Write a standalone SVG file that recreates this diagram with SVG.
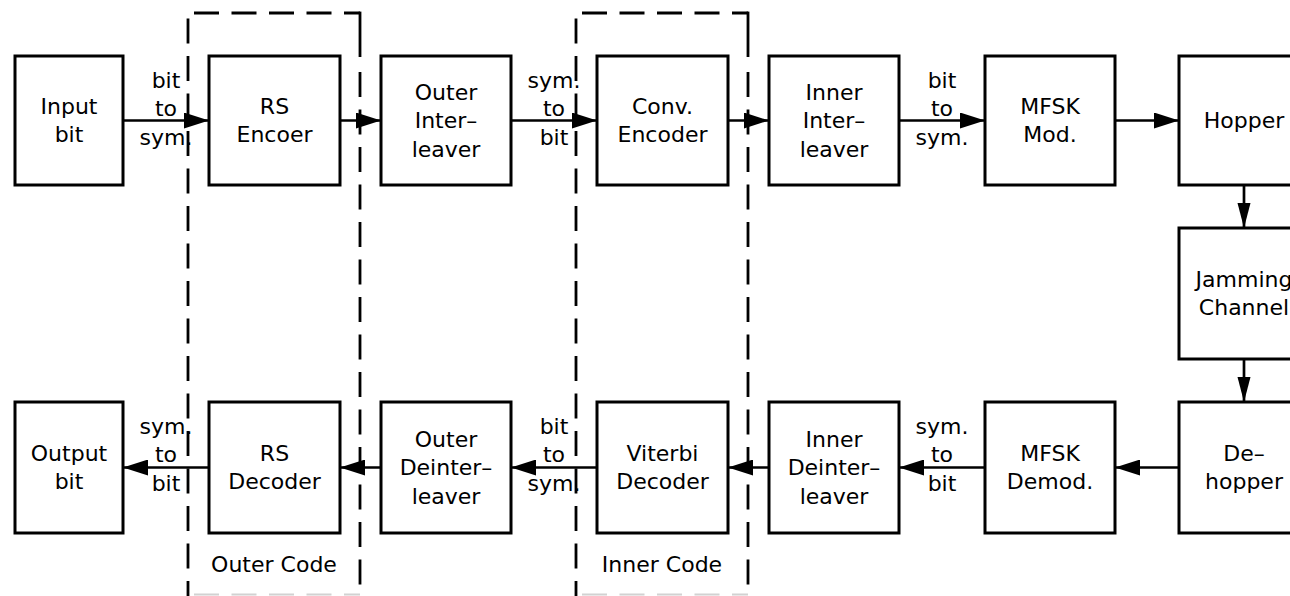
<svg xmlns="http://www.w3.org/2000/svg" width="1290" height="596" viewBox="0 0 1290 596">
  <style>
    .box { fill: #ffffff; stroke: #000000; stroke-width: 3; }
    .wire { fill: none; stroke: #000000; stroke-width: 2.7; }
    .dash { fill: none; stroke: #000000; stroke-width: 2.8; stroke-dasharray: 25 12.5; }
    .solid { fill: none; stroke: #000000; stroke-width: 2.8; }
    .faint { fill: none; stroke: #d2d2d2; stroke-width: 2; stroke-dasharray: 25 12.5; }
    text { font-family: "DejaVu Sans", "Liberation Sans", sans-serif; font-size: 22px; fill: #000000; text-anchor: middle; }
  </style>
  <defs>
    <marker id="arrowH" markerUnits="userSpaceOnUse" markerWidth="25" markerHeight="16" viewBox="0 0 25 16" refX="25" refY="8" orient="auto">
      <path d="M0,0 L25,8 L0,16 Z" fill="#000000"/>
    </marker>
    <marker id="arrowV" markerUnits="userSpaceOnUse" markerWidth="25" markerHeight="14" viewBox="0 0 25 14" refX="25" refY="7" orient="auto">
      <path d="M0,0.5 L25,7 L0,13.5 Z" fill="#000000"/>
    </marker>
  </defs>

  <rect x="0" y="0" width="1290" height="596" fill="#ffffff"/>

  <!-- code groupings (dashed frames) -->
  <g id="outer-code">
    <path class="dash" d="M194,13 H360"/>
    <path class="solid" d="M360,11.6 V57"/>
    <path class="dash" d="M360,72 V596"/>
    <path class="dash" d="M188,18.5 V596"/>
    <path class="faint" d="M194,594.5 H360"/>
    <text x="274" y="572">Outer Code</text>
  </g>
  <g id="inner-code">
    <path class="dash" d="M582,13 H748"/>
    <path class="solid" d="M748,11.6 V57"/>
    <path class="dash" d="M748,72 V596"/>
    <path class="dash" d="M576,18.5 V596"/>
    <path class="faint" d="M582,594.5 H748"/>
    <text x="662" y="572">Inner Code</text>
  </g>

  <!-- connectors -->
  <g id="connectors">
    <line class="wire" x1="123" y1="120.5" x2="209" y2="120.5" marker-end="url(#arrowH)"/>
    <line class="wire" x1="340" y1="120.5" x2="381" y2="120.5" marker-end="url(#arrowH)"/>
    <line class="wire" x1="511" y1="120.5" x2="597" y2="120.5" marker-end="url(#arrowH)"/>
    <line class="wire" x1="728" y1="120.5" x2="769" y2="120.5" marker-end="url(#arrowH)"/>
    <line class="wire" x1="899" y1="120.5" x2="985" y2="120.5" marker-end="url(#arrowH)"/>
    <line class="wire" x1="1115" y1="120.5" x2="1179" y2="120.5" marker-end="url(#arrowH)"/>
    <line class="wire" x1="1244" y1="185" x2="1244" y2="228" marker-end="url(#arrowV)"/>
    <line class="wire" x1="1244" y1="359" x2="1244" y2="402" marker-end="url(#arrowV)"/>
    <line class="wire" x1="1179" y1="467.5" x2="1115" y2="467.5" marker-end="url(#arrowH)"/>
    <line class="wire" x1="985" y1="467.5" x2="899" y2="467.5" marker-end="url(#arrowH)"/>
    <line class="wire" x1="769" y1="467.5" x2="728" y2="467.5" marker-end="url(#arrowH)"/>
    <line class="wire" x1="597" y1="467.5" x2="511" y2="467.5" marker-end="url(#arrowH)"/>
    <line class="wire" x1="381" y1="467.5" x2="340" y2="467.5" marker-end="url(#arrowH)"/>
    <line class="wire" x1="209" y1="467.5" x2="123" y2="467.5" marker-end="url(#arrowH)"/>

    <text x="166" y="87.5">bit</text>
    <text x="166" y="116">to</text>
    <text x="166" y="144.5">sym.</text>

    <text x="554" y="87.5">sym.</text>
    <text x="554" y="116">to</text>
    <text x="554" y="144.5">bit</text>

    <text x="942" y="87.5">bit</text>
    <text x="942" y="116">to</text>
    <text x="942" y="144.5">sym.</text>

    <text x="166" y="433.5">sym.</text>
    <text x="166" y="462">to</text>
    <text x="166" y="490.5">bit</text>

    <text x="554" y="433.5">bit</text>
    <text x="554" y="462">to</text>
    <text x="554" y="490.5">sym.</text>

    <text x="942" y="433.5">sym.</text>
    <text x="942" y="462">to</text>
    <text x="942" y="490.5">bit</text>
  </g>

  <!-- transmit chain -->
  <g id="input-bit">
    <rect class="box" x="15" y="56" width="108" height="129"/>
    <text x="69" y="113.75">Input</text>
    <text x="69" y="142.25">bit</text>
  </g>
  <g id="rs-encoder">
    <rect class="box" x="209" y="56" width="131" height="129"/>
    <text x="274.5" y="113.75">RS</text>
    <text x="274.5" y="142.25">Encoer</text>
  </g>
  <g id="outer-interleaver">
    <rect class="box" x="381" y="56" width="130" height="129"/>
    <text x="446" y="99.5">Outer</text>
    <text x="446" y="128">Inter–</text>
    <text x="446" y="156.5">leaver</text>
  </g>
  <g id="conv-encoder">
    <rect class="box" x="597" y="56" width="131" height="129"/>
    <text x="662.5" y="113.75">Conv.</text>
    <text x="662.5" y="142.25">Encoder</text>
  </g>
  <g id="inner-interleaver">
    <rect class="box" x="769" y="56" width="130" height="129"/>
    <text x="834" y="99.5">Inner</text>
    <text x="834" y="128">Inter–</text>
    <text x="834" y="156.5">leaver</text>
  </g>
  <g id="mfsk-mod">
    <rect class="box" x="985" y="56" width="130" height="129"/>
    <text x="1050" y="113.75">MFSK</text>
    <text x="1050" y="142.25">Mod.</text>
  </g>
  <g id="hopper">
    <rect class="box" x="1179" y="56" width="130" height="129"/>
    <text x="1244" y="128.3">Hopper</text>
  </g>

  <!-- channel -->
  <g id="jamming-channel">
    <rect class="box" x="1179" y="228" width="130" height="131"/>
    <text x="1244" y="286.75">Jamming</text>
    <text x="1244" y="315.25">Channel</text>
  </g>

  <!-- receive chain -->
  <g id="de-hopper">
    <rect class="box" x="1179" y="402" width="130" height="131"/>
    <text x="1244" y="460.75">De–</text>
    <text x="1244" y="489.25">hopper</text>
  </g>
  <g id="mfsk-demod">
    <rect class="box" x="985" y="402" width="130" height="131"/>
    <text x="1050" y="460.75">MFSK</text>
    <text x="1050" y="489.25">Demod.</text>
  </g>
  <g id="inner-deinterleaver">
    <rect class="box" x="769" y="402" width="130" height="131"/>
    <text x="834" y="446.5">Inner</text>
    <text x="834" y="475">Deinter–</text>
    <text x="834" y="503.5">leaver</text>
  </g>
  <g id="viterbi-decoder">
    <rect class="box" x="597" y="402" width="131" height="131"/>
    <text x="662.5" y="460.75">Viterbi</text>
    <text x="662.5" y="489.25">Decoder</text>
  </g>
  <g id="outer-deinterleaver">
    <rect class="box" x="381" y="402" width="130" height="131"/>
    <text x="446" y="446.5">Outer</text>
    <text x="446" y="475">Deinter–</text>
    <text x="446" y="503.5">leaver</text>
  </g>
  <g id="rs-decoder">
    <rect class="box" x="209" y="402" width="131" height="131"/>
    <text x="274.5" y="460.75">RS</text>
    <text x="274.5" y="489.25">Decoder</text>
  </g>
  <g id="output-bit">
    <rect class="box" x="15" y="402" width="108" height="131"/>
    <text x="69" y="460.75">Output</text>
    <text x="69" y="489.25">bit</text>
  </g>
</svg>
